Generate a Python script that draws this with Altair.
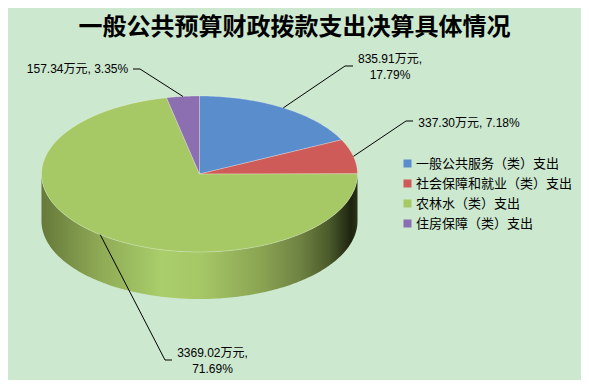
import math
import numpy as np
import pandas as pd
import altair as alt

# ---------------- data ----------------
categories = ["一般公共服务（类）支出", "社会保障和就业（类）支出", "农林水（类）支出", "住房保障（类）支出"]
values = [835.91, 337.30, 3369.02, 157.34]
colors = ["#5A8DCC", "#CF5B58", "#A7C965", "#8B6FB0"]
title_text = "一般公共预算财政拨款支出决算具体情况"

# ---------------- layout (page pixels) ----------------
PAGE_X, PAGE_Y = 8, 8
PAD_TOP = 34
W, H = 573, 372 - PAD_TOP
OX, OY = PAGE_X, PAGE_Y + PAD_TOP
CX, CY = 199.5 - OX, 174 - OY          # pie centre in plot px
RA, RB, DEPTH = 158, 78, 47            # ellipse radii and thickness
label_center = [(390, 59), (469, 123), (212.5, 353), (77.5, 69)]   # first-line centres
label_wrap = [True, False, True, False]
leader_elbow = [(345, 66), (406, 121), (165, 360), (140, 69)]
leader_tick = [(353, 66), (413, 121), (172, 360), (133, 69)]
FONT = "Liberation Sans, Noto Sans CJK SC"
CJK = "Noto Sans CJK SC"


def ell(deg):
    r = math.radians(deg)
    return CX + RA * math.sin(r), CY - RB * math.cos(r)


total = sum(values)
pcts = [v / total * 100 for v in values]
starts, ends = [], []
acc = 0.0
for v in values:
    starts.append(acc / total * 360)
    acc += v
    ends.append(acc / total * 360)

# slice polygons (top face)
rows = []
for i, cat in enumerate(categories):
    k = 0
    rows.append(dict(cat=cat, idx=k, x=CX, y=CY)); k += 1
    n = max(3, int(ends[i] - starts[i]) + 2)
    for t in np.linspace(starts[i], ends[i], n):
        x, y = ell(float(t))
        rows.append(dict(cat=cat, idx=k, x=x, y=y)); k += 1
    rows.append(dict(cat=cat, idx=k, x=CX, y=CY))
slices_df = pd.DataFrame(rows)

# side wall (front half of the disc, green slice)
side_rows = []
for t in np.arange(90, 271, 1.0):
    x, y = ell(float(t))
    side_rows.append(dict(x=x, y=y, y2=y + DEPTH))
side_df = pd.DataFrame(side_rows)

# leader lines and labels
lead_rows, text_rows = [], []
for i, cat in enumerate(categories):
    mid = (starts[i] + ends[i]) / 2
    px, py = ell(mid)
    pts = [(px, py),
           (leader_elbow[i][0] - OX, leader_elbow[i][1] - OY),
           (leader_tick[i][0] - OX, leader_tick[i][1] - OY)]
    for j, (x, y) in enumerate(pts):
        lead_rows.append(dict(cat=cat, idx=j, x=x, y=y))
    sep = "\n" if label_wrap[i] else " "
    txt = f"{values[i]:.2f}万元,{sep}{pcts[i]:.2f}%"
    text_rows.append(dict(cat=cat, x=label_center[i][0] - OX, y=label_center[i][1] - OY, text=txt))
lead_df = pd.DataFrame(lead_rows)
text_df = pd.DataFrame(text_rows)

xs = alt.Scale(domain=[0, W], nice=False, zero=False)
ys = alt.Scale(domain=[0, H], nice=False, zero=False, reverse=True)

side_grad = alt.Gradient(
    gradient="linear", x1=0, x2=1, y1=0, y2=0,
    stops=[
        alt.GradientStop(offset=0.0, color="#66793A"),
        alt.GradientStop(offset=0.19, color="#8FAB56"),
        alt.GradientStop(offset=0.38, color="#A9CE6A"),
        alt.GradientStop(offset=0.5, color="#A6C866"),
        alt.GradientStop(offset=0.69, color="#8BA553"),
        alt.GradientStop(offset=0.82, color="#6E8242"),
        alt.GradientStop(offset=0.91, color="#4B5B2B"),
        alt.GradientStop(offset=0.98, color="#1D230F"),
        alt.GradientStop(offset=1.0, color="#2B3317"),
    ],
)

side = alt.Chart(side_df).mark_area(color=side_grad).encode(
    x=alt.X("x:Q", scale=xs, axis=None),
    y=alt.Y("y:Q", scale=ys, axis=None),
    y2="y2:Q",
)

slices = alt.Chart(slices_df).mark_line(stroke="#FFFFFF", strokeWidth=0.6, strokeOpacity=0.45).encode(
    x=alt.X("x:Q", scale=xs, axis=None),
    y=alt.Y("y:Q", scale=ys, axis=None),
    detail="cat:N",
    order="idx:Q",
    fill=alt.Fill(
        "cat:N", sort=categories,
        scale=alt.Scale(domain=categories, range=colors),
        legend=alt.Legend(
            title=None, orient="none", legendX=393, legendY=115, padding=0,
            symbolType="square", symbolSize=64, symbolStrokeWidth=0,
            labelFont=CJK, labelFontSize=13, labelColor="#000000",
            labelLimit=400, rowPadding=6, labelOffset=2,
        ),
    ),
)

leaders = alt.Chart(lead_df).mark_line(color="#000000", strokeWidth=1).encode(
    x=alt.X("x:Q", scale=xs, axis=None),
    y=alt.Y("y:Q", scale=ys, axis=None),
    detail="cat:N",
    order="idx:Q",
)

labels = alt.Chart(text_df).mark_text(
    font=FONT, fontSize=12, color="#000000", align="center", baseline="middle",
    lineBreak="\n", lineHeight=16,
).encode(
    x=alt.X("x:Q", scale=xs, axis=None),
    y=alt.Y("y:Q", scale=ys, axis=None),
    text="text:N",
)

chart = alt.layer(side, slices, leaders, labels).properties(
    width=W, height=H,
    background="#CCE8CF",
    padding={"left": 0, "right": 0, "top": PAD_TOP, "bottom": 0},
    autosize=alt.AutoSizeParams(type="none"),
    title=alt.TitleParams(
        title_text, font=CJK, fontSize=24, fontWeight="bold", color="#000000",
        anchor="middle", offset=2,
    ),
).configure_view(stroke=None)

chart.save("out.html", embed_options={"renderer": "svg", "actions": False})
